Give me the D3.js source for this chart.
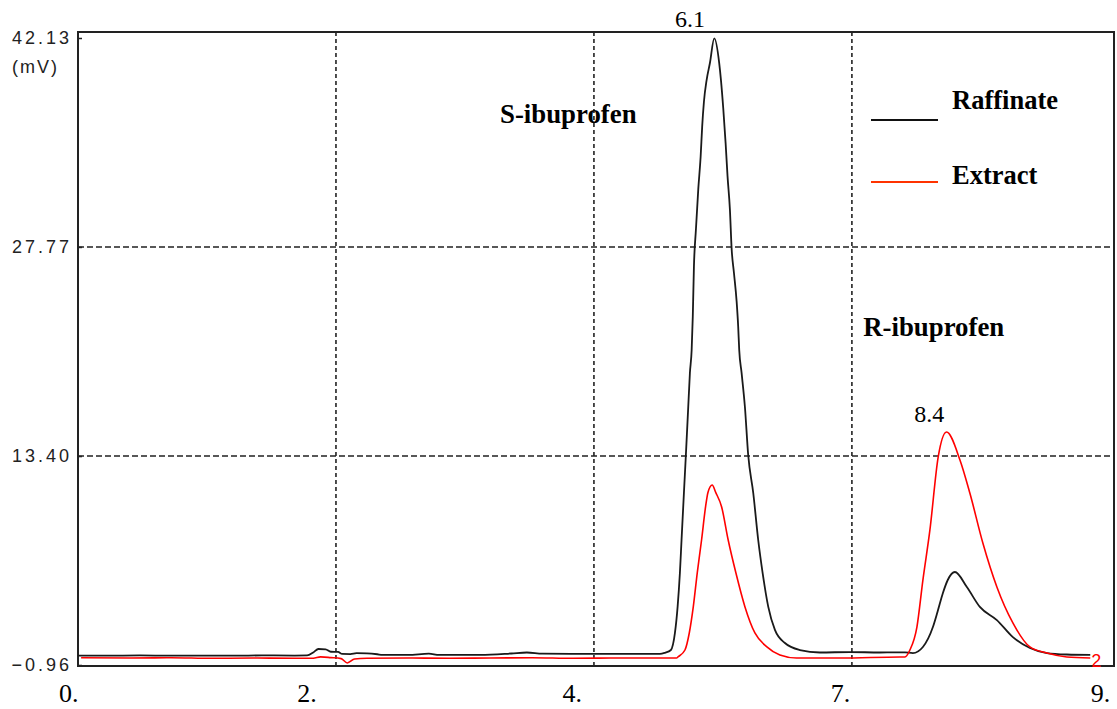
<!DOCTYPE html>
<html>
<head>
<meta charset="utf-8">
<script src="https://cdn.jsdelivr.net/npm/d3@7"></script>
<style>
    body { margin: 0; background: #fff; }
    svg { display: block; }
</style>
</head>
<body>
<div id="chartContainer"></div>
<script>
// Tick labels and grid positions
const yTicks = [42.13, 27.77, 13.40, -0.96];
const yGrid = [27.77, 13.40];
const xGrid = [2.5, 5, 7.5];
const xLabels = ["0.", "2.", "4.", "7.", "9."];
const xLabelPos = [-0.19, 2.12, 4.69, 7.29, 9.81];

// Raffinate trace (black): time (min) / signal (mV)
const raffTime = [0.00, 0.30, 0.60, 0.90, 1.20, 1.50, 1.80, 2.10, 2.22, 2.28, 2.33, 2.40, 2.45, 2.52, 2.56, 2.64, 2.70, 2.80, 2.90, 2.95, 3.20, 3.40, 3.50, 3.90, 4.20, 4.35, 4.50, 4.80, 5.20, 5.64,
    5.688, 5.746, 5.785, 5.811, 5.833, 5.849, 5.872, 5.891, 5.914, 5.930, 5.947, 5.958, 5.969, 5.988, 6.011, 6.034, 6.049, 6.066, 6.092, 6.124, 6.166,
    6.214, 6.231, 6.253, 6.276, 6.295, 6.318, 6.334, 6.357, 6.383, 6.398, 6.408, 6.431, 6.463, 6.495, 6.544, 6.592, 6.635, 6.689, 6.754, 6.851, 6.996, 7.19, 7.48, 7.77, 8.014,
    8.091, 8.188, 8.285, 8.33, 8.382, 8.43, 8.498, 8.614, 8.740, 8.905, 9.060, 9.225, 9.390, 9.583, 9.81];
const raffSignal = [-0.32, -0.32, -0.30, -0.32, -0.31, -0.32, -0.30, -0.31, -0.30, -0.10, 0.14, 0.12, -0.05, -0.06, -0.20, -0.21, -0.15, -0.16, -0.22, -0.27, -0.27, -0.18, -0.27, -0.27, -0.17, -0.10, -0.18, -0.20, -0.20, -0.20,
    -0.12, 0.07, 1.24, 3.05, 5.36, 7.63, 10.86, 13.47, 16.79, 19.11, 20.69, 23.0, 26.41, 28.93, 31.73, 33.97, 36.04, 37.75, 39.24, 40.41, 42.11,
    40.41, 39.24, 37.32, 34.91, 32.60, 30.31, 27.70, 25.98, 24.01, 22.29, 20.69, 19.11, 16.79, 13.47, 10.86, 7.63, 5.36, 3.05, 1.45, 0.55, 0.07, -0.10, -0.07, -0.10, -0.09,
    -0.14, 0.28, 1.65, 2.70, 3.99, 4.90, 5.43, 4.40, 3.03, 2.13, 0.96, 0.21, -0.14, -0.24, -0.27];

// Extract trace (red): time (min) / signal (mV)
const extrTime = [0.03, 0.50, 0.90, 1.30, 1.70, 2.10, 2.28, 2.35, 2.45, 2.55, 2.61, 2.68, 2.80, 3.20, 3.60, 4.00, 4.40, 4.80, 5.20, 5.80,
    5.817, 5.882, 5.924, 5.963, 6.001, 6.043, 6.082, 6.105, 6.146, 6.18, 6.237, 6.301, 6.376, 6.463, 6.560, 6.673, 6.802, 6.964, 7.40, 7.965,
    8.014, 8.062, 8.130, 8.188, 8.256, 8.336, 8.417, 8.547, 8.643, 8.769, 8.905, 9.060, 9.225, 9.390, 9.583, 9.81];
const extrSignal = [-0.46, -0.48, -0.46, -0.50, -0.48, -0.50, -0.50, -0.40, -0.45, -0.52, -0.82, -0.55, -0.50, -0.48, -0.50, -0.48, -0.46, -0.50, -0.48, -0.48,
    -0.39, 0.07, 1.24, 3.05, 5.36, 7.63, 9.92, 10.9, 11.41, 10.9, 9.92, 7.63, 5.36, 3.05, 1.24, 0.30, -0.27, -0.48, -0.48, -0.41,
    -0.41, 0.07, 1.65, 4.88, 8.32, 13.33, 15.05, 13.13, 10.86, 7.42, 4.40, 1.93, 0.28, -0.14, -0.41, -0.48];

// Peak annotations
const peakLabels = ["6.1", "8.4"];
const peakTime = [5.93, 8.25];
const peakValue = [42.88, 15.76];
const compoundNames = ["S-ibuprofen", "R-ibuprofen"];
const compoundTime = [4.09, 7.61];
const compoundValue = [36.3, 21.65];

// Legend
const seriesNames = ["Raffinate", "Extract"];
const seriesColors = ["#1a1a1a", "#ff0000"];

document.addEventListener("DOMContentLoaded", () => {
    const w = 1117;
    const h = 709;

    const xScale = d3.scaleLinear().domain([0, 10.04]).range([78, 1114]);
    const yScale = d3.scaleLinear().domain([-0.96, 42.13]).range([665, 38]);

    const left = xScale(0), right = xScale(10.04);
    const top = yScale(42.13) - 6, bottom = yScale(-0.96) + 1;

    const svg = d3.select("#chartContainer")
        .append("svg")
        .attr("width", w)
        .attr("height", h);

    // Dashed grid
    svg.append("g")
        .selectAll("line")
        .data(xGrid)
        .enter()
        .append("line")
        .attr("x1", d => xScale(d)).attr("x2", d => xScale(d))
        .attr("y1", top).attr("y2", bottom)
        .attr("stroke", "#222")
        .attr("stroke-width", 1.6)
        .attr("stroke-dasharray", "4,3");

    svg.append("g")
        .selectAll("line")
        .data(yGrid)
        .enter()
        .append("line")
        .attr("x1", left).attr("x2", right)
        .attr("y1", d => yScale(d)).attr("y2", d => yScale(d))
        .attr("stroke", "#222")
        .attr("stroke-width", 1.6)
        .attr("stroke-dasharray", "6,3");

    // Y axis labels (inward ticks)
    const yAxis = d3.axisLeft(yScale)
        .tickValues(yTicks)
        .tickSizeInner(-4)
        .tickSizeOuter(0)
        .tickPadding(6)
        .tickFormat(d3.format(".2f"));

    const yg = svg.append("g")
        .attr("transform", `translate(${left},0)`)
        .call(yAxis);
    yg.select(".domain").remove();
    yg.selectAll("line").attr("stroke", "#222").attr("stroke-width", 1.5);
    yg.selectAll("text")
        .attr("font-family", "Liberation Sans, Arial, sans-serif")
        .attr("font-size", 18)
        .attr("letter-spacing", "3px")
        .attr("fill", "#222");

    svg.append("text")
        .attr("x", 12)
        .attr("y", yScale(42.13) + 35)
        .attr("font-family", "Liberation Sans, Arial, sans-serif")
        .attr("font-size", 18)
        .attr("letter-spacing", "2px")
        .attr("fill", "#222")
        .text("(mV)");

    // X axis labels
    const xAxis = d3.axisBottom(xScale)
        .tickValues(xLabelPos)
        .tickSize(0)
        .tickPadding(18)
        .tickFormat((d, i) => xLabels[i]);

    const xg = svg.append("g")
        .attr("transform", `translate(0,${bottom})`)
        .call(xAxis);
    xg.select(".domain").remove();
    xg.selectAll("text")
        .attr("text-anchor", "start")
        .attr("font-family", "Liberation Serif, Times New Roman, serif")
        .attr("font-size", 26)
        .attr("fill", "#000");

    // Frame
    svg.append("rect")
        .attr("x", left).attr("y", top)
        .attr("width", right - left).attr("height", bottom - top)
        .attr("fill", "none")
        .attr("stroke", "#222")
        .attr("stroke-width", 2);

    // Traces
    const line = d3.line()
        .x(d => xScale(d[0]))
        .y(d => yScale(d[1]))
        .curve(d3.curveMonotoneX);

    const raffData = raffTime.map((t, i) => [t, raffSignal[i]]);
    const extrData = extrTime.map((t, i) => [t, extrSignal[i]]);

    svg.append("path")
        .datum(raffData)
        .attr("d", line)
        .attr("fill", "none")
        .attr("stroke", seriesColors[0])
        .attr("stroke-width", 1.8);

    svg.append("path")
        .datum(extrData)
        .attr("d", line)
        .attr("fill", "none")
        .attr("stroke", seriesColors[1])
        .attr("stroke-width", 1.6);

    // Channel number at end of red trace
    const lastExtr = extrData[extrData.length - 1];
    svg.append("text")
        .attr("x", xScale(lastExtr[0]) + 1)
        .attr("y", yScale(lastExtr[1]) + 9)
        .attr("font-family", "Liberation Sans, Arial, sans-serif")
        .attr("font-size", 18)
        .attr("fill", seriesColors[1])
        .text("2");

    // Peak time labels
    svg.selectAll(".peak")
        .data(peakLabels)
        .enter()
        .append("text")
        .attr("class", "peak")
        .attr("x", (d, i) => xScale(peakTime[i]))
        .attr("y", (d, i) => yScale(peakValue[i]))
        .attr("text-anchor", "middle")
        .attr("font-family", "Liberation Serif, Times New Roman, serif")
        .attr("font-size", 24)
        .text(d => d);

    // Compound names
    svg.selectAll(".compound")
        .data(compoundNames)
        .enter()
        .append("text")
        .attr("class", "compound")
        .attr("x", (d, i) => xScale(compoundTime[i]))
        .attr("y", (d, i) => yScale(compoundValue[i]))
        .attr("font-family", "Liberation Serif, Times New Roman, serif")
        .attr("font-weight", "bold")
        .attr("font-size", 26.8)
        .text(d => d);

    // Legend
    const legend = svg.append("g").attr("transform", "translate(871,0)");
    const legendRows = [120, 182];
    seriesNames.forEach((name, i) => {
        legend.append("line")
            .attr("x1", 0).attr("x2", 67)
            .attr("y1", legendRows[i]).attr("y2", legendRows[i])
            .attr("stroke", i === 0 ? "#111" : "#ff3300")
            .attr("stroke-width", 2);
        legend.append("text")
            .attr("x", 81)
            .attr("y", legendRows[i] - (i === 0 ? 11 : -2))
            .attr("font-family", "Liberation Serif, Times New Roman, serif")
            .attr("font-weight", "bold")
            .attr("font-size", 26.5)
            .text(name);
    });
});
</script>
</body>
</html>
